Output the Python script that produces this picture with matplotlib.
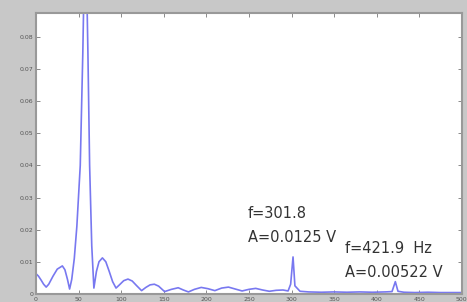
import numpy as np
import matplotlib
matplotlib.use("Agg")
import matplotlib.pyplot as plt

# spectrum (Hz, V)
freq = [0, 3, 6, 9, 12, 15, 20, 25, 31, 34, 37, 39.5, 42, 45, 48, 52, 55, 58, 61, 63,
        65.5, 68, 71, 74, 78, 82, 86, 90, 94, 98, 103, 108, 113, 118, 124, 129, 134,
        139, 144, 151, 159, 167, 173, 179, 186, 194, 202, 210, 218, 226, 234, 242,
        250, 258, 266, 274, 282, 290, 296, 299, 301.8, 304, 310, 320, 335, 350, 365,
        380, 395, 410, 418, 421.9, 425, 432, 445, 460, 475, 490, 500]
amp = [0.0063, 0.0055, 0.0043, 0.0030, 0.0021, 0.0030, 0.0055, 0.0077, 0.0087, 0.0075,
       0.0045, 0.0015, 0.0045, 0.0110, 0.0210, 0.0400, 0.0750, 0.1200, 0.0750, 0.0400,
       0.0150, 0.0018, 0.0070, 0.0100, 0.0112, 0.0100, 0.0070, 0.0038, 0.0018, 0.0028,
       0.0041, 0.0046, 0.0040, 0.0026, 0.0010, 0.0020, 0.0028, 0.0030, 0.0024, 0.0007,
       0.0014, 0.0019, 0.0012, 0.0006, 0.0014, 0.0020, 0.0016, 0.0010, 0.0018, 0.0021,
       0.0015, 0.0009, 0.0014, 0.0017, 0.0012, 0.0008, 0.0011, 0.0012, 0.0009, 0.0030,
       0.0115, 0.0025, 0.0008, 0.0006, 0.0005, 0.0006, 0.0005, 0.0006, 0.0005, 0.0006,
       0.0007, 0.0038, 0.0008, 0.0005, 0.0004, 0.0005, 0.0004, 0.0004, 0.0004]

xticks = np.arange(0, 501, 50)
yticks = np.arange(0, 0.081, 0.01)
ytick_labels = ["0"] + ["%.2f" % v for v in yticks[1:]]

fig = plt.figure(figsize=(4.67, 3.02), dpi=100, facecolor="#c8c8c8")
ax = fig.add_axes([0.077, 0.027, 0.912, 0.930])
ax.set_facecolor("white")

ax.plot(freq, amp, color="#7878f0", lw=1.2)

ax.set_xlim(0, 500)
ax.set_ylim(0, 0.0875)
ax.set_xticks(xticks)
ax.set_yticks(yticks)
ax.set_yticklabels(ytick_labels)
ax.tick_params(direction="in", length=3, width=0.6, colors="#777777",
               labelsize=4.5, labelcolor="#555555", top=True, right=True, pad=2)

for s in ax.spines.values():
    s.set_color("#999999")
    s.set_linewidth(1.5)

txt = dict(fontsize=10.5, color="#333333", va="center", ha="left")
ax.text(249, 0.0250, "f=301.8", **txt)
ax.text(249, 0.0175, "A=0.0125 V", **txt)
ax.text(363, 0.0141, "f=421.9  Hz", **txt)
ax.text(363, 0.0066, "A=0.00522 V", **txt)

fig.savefig("out.png", dpi=100, facecolor=fig.get_facecolor())
